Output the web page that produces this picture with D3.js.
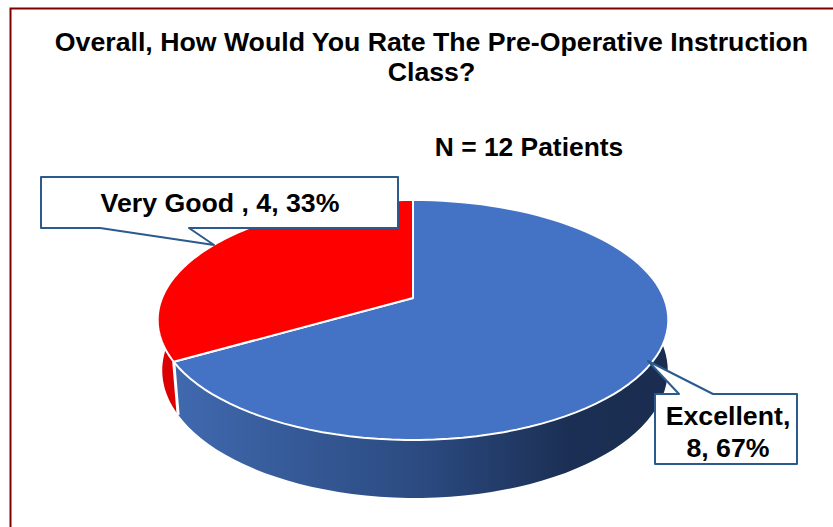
<!DOCTYPE html>
<html>
<head>
<meta charset="utf-8">
<script src="https://cdn.jsdelivr.net/npm/d3@7"></script>
<style>
  html, body { margin: 0; padding: 0; background: #fff; }
  svg { display: block; }
  text { font-family: "Liberation Sans", Arial, sans-serif; font-weight: bold; fill: #000; }
</style>
</head>
<body>
<svg id="chart" width="833" height="527"></svg>
<script>
var categories = ["Excellent", "Very Good"];
var counts = [8, 4];
var percents = ["67%", "33%"];
var sliceColors = ["#4472c4", "#ff0000"];
var titleLines = ["Overall, How Would You Rate The Pre-Operative Instruction", "Class?"];
var subtitle = "N = 12 Patients";

var svg = d3.select("#chart");

// outer frame, runs off the right and bottom of the picture
svg.append("rect")
  .attr("x", 10.5).attr("y", 8.5)
  .attr("width", 900).attr("height", 600)
  .attr("fill", "#fff")
  .attr("stroke", "#7f0000")
  .attr("stroke-width", 2);

var defs = svg.append("defs");
var blueSide = defs.append("linearGradient")
  .attr("id", "blueSide")
  .attr("gradientUnits", "userSpaceOnUse")
  .attr("x1", 175).attr("x2", 670).attr("y1", 0).attr("y2", 0);
blueSide.append("stop").attr("offset", 0).attr("stop-color", "#4069ae");
blueSide.append("stop").attr("offset", 0.5).attr("stop-color", "#2b4a80");
blueSide.append("stop").attr("offset", 0.8).attr("stop-color", "#1b2f54");
blueSide.append("stop").attr("offset", 1).attr("stop-color", "#1a2d50");

// tilted disc with a bit of perspective, that's why the apex isn't the ellipse centre
var apex = [413, 298], a = 251, b = 116, k = 0.183;
var bottomDx = 2, bottomS = 0.99, bottomY = 347, bottomSy = 1.063;

function topPoint(t) {
  var u = -Math.cos(t), v = Math.sin(t), w = 1 - k * u;
  return [apex[0] + a * v / w, apex[1] + b * u / w];
}
function bottomPoint(t) {
  var u = -Math.cos(t), v = Math.sin(t), w = 1 - k * u;
  return [apex[0] + bottomDx + bottomS * a * v / w, bottomY + bottomSy * b * u / w];
}
function arcAngles(s, e) {
  var n = 90;
  return d3.range(n + 1).map(function (i) { return s + (e - s) * i / n; });
}

var line = d3.line();
var slices = d3.pie().sort(null)(counts);

// side walls first, the top goes over them
var sideFill = ["url(#blueSide)", "#dc0000"];
svg.selectAll("path.side")
  .data(slices)
  .enter()
  .append("path")
  .attr("class", "side")
  .attr("d", function (d) {
    var ang = arcAngles(d.startAngle, d.endAngle);
    return line(ang.map(topPoint).concat(ang.slice().reverse().map(bottomPoint))) + "Z";
  })
  .attr("fill", function (d, i) { return sideFill[i]; });

// white cut between the walls
var cut = slices[1].startAngle;
svg.append("path")
  .attr("d", line([topPoint(cut), bottomPoint(cut)]))
  .attr("stroke", "#fff")
  .attr("stroke-width", 3)
  .attr("fill", "none");

svg.selectAll("path.top")
  .data(slices)
  .enter()
  .append("path")
  .attr("class", "top")
  .attr("d", function (d) {
    return line([apex].concat(arcAngles(d.startAngle, d.endAngle).map(topPoint))) + "Z";
  })
  .attr("fill", function (d, i) { return sliceColors[i]; })
  .attr("stroke", "#fff")
  .attr("stroke-width", 2)
  .attr("stroke-linejoin", "round");

// title
svg.selectAll("text.title")
  .data(titleLines)
  .enter()
  .append("text")
  .attr("class", "title")
  .attr("x", 431.5)
  .attr("y", function (d, i) { return 51 + i * 30; })
  .attr("text-anchor", "middle")
  .attr("font-size", 26.7)
  .text(function (d) { return d; });

svg.append("text")
  .attr("x", 529).attr("y", 156)
  .attr("text-anchor", "middle")
  .attr("font-size", 26.4)
  .text(subtitle);

// callouts
function callout(box, tip, baseA, baseB, lines, firstY) {
  var pts = box.pts(baseA, baseB, tip);
  svg.append("path")
    .attr("d", line(pts) + "Z")
    .attr("fill", "#fff")
    .attr("stroke", "#2a5b8c")
    .attr("stroke-width", 2)
    .attr("stroke-linejoin", "round");
  svg.selectAll(null)
    .data(lines)
    .enter()
    .append("text")
    .attr("x", box.x + box.textDx + box.w / 2)
    .attr("y", function (d, i) { return firstY + i * 32; })
    .attr("text-anchor", "middle")
    .attr("font-size", 26.7)
    .text(function (d) { return d; });
}

callout({
  x: 41, w: 357, textDx: 0.5,
  pts: function (p, q, t) {
    return [[41, 177], [398, 177], [398, 228], [q, 228], t, [p, 228], [41, 228]];
  }
}, [214, 245], 100, 189, [categories[1] + " , " + counts[1] + ", " + percents[1]], 212);

callout({
  x: 655, w: 142, textDx: 2,
  pts: function (p, q, t) {
    return [[655, 394], [p, 394], t, [q, 394], [797, 394], [797, 464], [655, 464]];
  }
}, [648, 361], 679, 713, [categories[0] + ",", counts[0] + ", " + percents[0]], 425);
</script>
</body>
</html>
